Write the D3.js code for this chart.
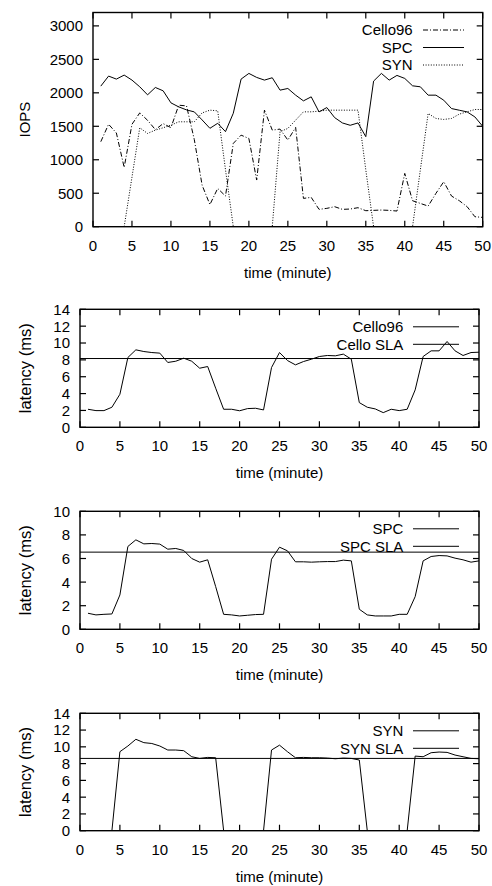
<!DOCTYPE html>
<html>
<head>
<meta charset="utf-8">
<script src="https://cdn.jsdelivr.net/npm/d3@7"></script>
<style>
  html, body { margin: 0; padding: 0; background: #fff; }
  svg { display: block; }
  text { font-family: "Liberation Sans", Arial, Helvetica, sans-serif; fill: #000; }
</style>
</head>
<body>
<svg id="chart" width="492" height="886"></svg>
<script>
// ---- data ----
const minutes = d3.range(1, 51);
const xTicks = [0, 5, 10, 15, 20, 25, 30, 35, 40, 45, 50];

const cello96Iops = [1270,1530,1400,885,1530,1700,1590,1450,1540,1480,
  1815,1805,1300,620,330,572,458,1244,1368,1318,
  697,1741,1443,1458,1294,1483,423,438,259,274,
  299,259,264,284,239,244,249,244,234,796,
  388,348,308,498,672,458,388,299,149,139];
const spcIops = [2100,2250,2205,2265,2190,2090,1970,2080,2030,1850,
  1790,1745,1715,1595,1470,1545,1420,1695,2205,2290,
  2230,2190,2225,2040,2065,1965,1880,1940,1715,1780,
  1630,1550,1515,1550,1345,2175,2290,2190,2260,2215,
  2105,2090,1965,1965,1890,1765,1740,1715,1640,1500];
const synIops = [0,0,0,0,740,1478,1393,1443,1478,1517,
  1567,1567,1567,1700,1741,1731,850,0,0,0,
  0,0,0,1420,1468,1592,1716,1716,1726,1741,
  1741,1741,1741,1741,850,0,0,0,0,0,
  0,850,1692,1617,1602,1617,1682,1716,1751,1751];
const iopsTicks = [0, 500, 1000, 1500, 2000, 2500, 3000];

const cello96Lat = [2.14,1.98,1.98,2.38,3.92,8.28,9.19,8.99,8.87,8.8,
  7.69,7.84,8.2,7.84,7.01,7.21,4.64,2.14,2.14,1.96,
  2.22,2.26,2.06,7.09,8.87,7.92,7.41,7.8,8.08,8.4,
  8.52,8.48,8.68,8.08,2.93,2.38,2.18,1.74,2.14,1.98,
  2.14,4.44,8.4,9.07,9.07,10.18,9.07,8.52,8.87,8.91];
const celloSLA = 8.16;
const spcLat = [1.36,1.22,1.27,1.3,2.91,7.02,7.58,7.24,7.27,7.22,
  6.79,6.85,6.68,6.0,5.69,5.89,3.62,1.27,1.22,1.13,
  1.19,1.25,1.27,5.94,6.96,6.65,5.72,5.72,5.69,5.72,
  5.74,5.74,5.86,5.8,1.7,1.22,1.13,1.13,1.13,1.27,
  1.27,2.77,5.8,6.17,6.25,6.22,6.03,5.89,5.69,5.8];
const spcSLA = 6.54;
const synLat = [0,0,0,0,9.42,10.1,10.9,10.5,10.4,10.1,
  9.62,9.62,9.54,8.82,8.62,8.74,8.7,0,0,0,
  0,0,0,9.62,10.2,9.42,8.7,8.74,8.7,8.7,
  8.66,8.58,8.66,8.62,8.43,0,0,0,0,0,
  0,8.9,8.82,9.3,9.38,9.34,9.02,8.82,8.62,8.58];
const synSLA = 8.62;
const lat14Ticks = [0, 2, 4, 6, 8, 10, 12, 14];
const lat10Ticks = [0, 2, 4, 6, 8, 10];

// ---- drawing ----
const svg = d3.select("#chart");
const FS = 15;
let clipId = 0;

function panel(cfg) {
  const { left, right, top, bottom, yMax, yTicks, yTitle, series, legendRight, sampleX1, sampleX2, yTitleSize } = cfg;
  const x = d3.scaleLinear().domain([0, 50]).range([left, right]);
  const y = d3.scaleLinear().domain([0, yMax]).range([bottom, top]);
  const g = svg.append("g");
  const id = "clip" + (clipId++);
  g.append("clipPath").attr("id", id).append("rect")
    .attr("x", left).attr("y", top).attr("width", right - left).attr("height", bottom - top);

  // ticks (inside, mirrored)
  const tl = 6;
  const tg = g.append("g").attr("stroke", "#000").attr("stroke-width", 1.2);
  yTicks.forEach(v => {
    tg.append("line").attr("x1", left).attr("x2", left + tl).attr("y1", y(v)).attr("y2", y(v));
    tg.append("line").attr("x1", right).attr("x2", right - tl).attr("y1", y(v)).attr("y2", y(v));
  });
  xTicks.forEach(v => {
    tg.append("line").attr("x1", x(v)).attr("x2", x(v)).attr("y1", bottom).attr("y2", bottom - tl);
    tg.append("line").attr("x1", x(v)).attr("x2", x(v)).attr("y1", top).attr("y2", top + tl);
  });

  // tick labels
  yTicks.forEach(v => {
    g.append("text").attr("x", left - 10).attr("y", y(v)).attr("dy", "0.36em")
      .attr("text-anchor", "end").attr("font-size", FS).text(v);
  });
  xTicks.forEach(v => {
    g.append("text").attr("x", x(v)).attr("y", bottom + 18.5).attr("dy", "0.36em")
      .attr("text-anchor", "middle").attr("font-size", FS).text(v);
  });

  // titles
  g.append("text").attr("x", (left + right) / 2).attr("y", bottom + 45.5).attr("dy", "0.36em")
    .attr("text-anchor", "middle").attr("font-size", FS).text("time (minute)");
  g.append("text").attr("transform", `translate(25,${(top + bottom) / 2}) rotate(-90)`)
    .attr("dy", "0.36em").attr("text-anchor", "middle").attr("font-size", yTitleSize).text(yTitle);

  // series
  const line = d3.line().x(d => x(d[0])).y(d => y(d[1]));
  series.forEach((s, i) => {
    const pts = s.values.length === 1 ? [[0, s.values[0]], [50, s.values[0]]] : minutes.map((m, j) => [m, s.values[j]]);
    g.append("path").attr("d", line(pts)).attr("fill", "none").attr("stroke", "#000")
      .attr("stroke-width", 1).attr("stroke-dasharray", s.dash || null)
      .attr("clip-path", `url(#${id})`);
    const ly = top + 17.5 + i * 17.5;
    g.append("text").attr("x", legendRight).attr("y", ly).attr("dy", "0.36em")
      .attr("text-anchor", "end").attr("font-size", FS).text(s.name);
    g.append("line").attr("x1", sampleX1).attr("x2", sampleX2).attr("y1", ly).attr("y2", ly)
      .attr("stroke", "#000").attr("stroke-width", 1).attr("stroke-dasharray", s.dash || null);
  });

  // frame
  g.append("rect").attr("x", left).attr("y", top).attr("width", right - left).attr("height", bottom - top)
    .attr("fill", "none").attr("stroke", "#000").attr("stroke-width", 1.4);
}

panel({
  left: 93, right: 482.7, top: 12.5, bottom: 226.7, yMax: 3200, yTicks: iopsTicks,
  yTitle: "IOPS", yTitleSize: 15, legendRight: 412.7, sampleX1: 423, sampleX2: 464,
  series: [
    { name: "Cello96", values: cello96Iops, dash: "5,2,1,2" },
    { name: "SPC", values: spcIops },
    { name: "SYN", values: synIops, dash: "1,1.6" }
  ]
});
panel({
  left: 80, right: 479, top: 309.3, bottom: 427.3, yMax: 14, yTicks: lat14Ticks,
  yTitle: "latency (ms)", yTitleSize: 16.5, legendRight: 403.3, sampleX1: 413, sampleX2: 459,
  series: [
    { name: "Cello96", values: cello96Lat },
    { name: "Cello SLA", values: [celloSLA] }
  ]
});
panel({
  left: 80, right: 479, top: 511.3, bottom: 629.3, yMax: 10, yTicks: lat10Ticks,
  yTitle: "latency (ms)", yTitleSize: 16.5, legendRight: 403.3, sampleX1: 413, sampleX2: 459,
  series: [
    { name: "SPC", values: spcLat },
    { name: "SPC SLA", values: [spcSLA] }
  ]
});
panel({
  left: 80, right: 479, top: 713.3, bottom: 830.7, yMax: 14, yTicks: lat14Ticks,
  yTitle: "latency (ms)", yTitleSize: 16.5, legendRight: 403.3, sampleX1: 413, sampleX2: 459,
  series: [
    { name: "SYN", values: synLat },
    { name: "SYN SLA", values: [synSLA] }
  ]
});
</script>
</body>
</html>
